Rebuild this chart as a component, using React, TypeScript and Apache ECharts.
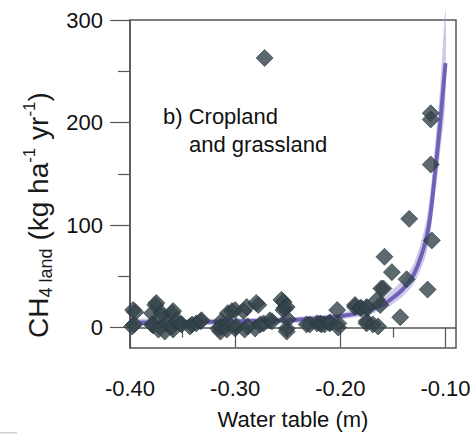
import React, { useEffect, useRef } from "react";
import * as echarts from "echarts";

// Observed points: water table (m) vs CH4 land (kg ha-1 yr-1)
const obsX: number[] = [
  -0.397, -0.398, -0.396, -0.395,
  -0.376, -0.375, -0.379, -0.379, -0.378, -0.373, -0.370, -0.370, -0.367, -0.365, -0.360, -0.359, -0.359, -0.360, -0.356, -0.352, -0.351, -0.343, -0.341, -0.337, -0.333, -0.332,
  -0.316, -0.314, -0.313, -0.313, -0.307, -0.307, -0.308, -0.303, -0.300, -0.300, -0.299, -0.292, -0.291, -0.289, -0.288, -0.278, -0.280, -0.281, -0.276, -0.273, -0.267, -0.265, -0.272,
  -0.256, -0.254, -0.254, -0.253, -0.251, -0.250, -0.251, -0.251,
  -0.232, -0.229, -0.222, -0.219, -0.218, -0.215, -0.210, -0.210, -0.203, -0.202, -0.202,
  -0.186, -0.186, -0.181, -0.180, -0.175, -0.175, -0.174, -0.175, -0.169, -0.165, -0.164, -0.162, -0.161, -0.159, -0.158, -0.151, -0.143, -0.137, -0.1345, -0.117, -0.114, -0.114, -0.114, -0.113,
];
const obsY: number[] = [
  17, 1, 3, 15,
  22, 24, 14, 3, 2, -2, 14, 11, -4, 4, 14, 16, -2, 1, 6, 4, 3, 1, 3, 4, 6, 7,
  -1, -4, 6, 1, 14, 4, -2, 16, 17, -1, 1, 16, -2, 20, 1, 22, 24, -1, 3, 4, 7, 6, 263,
  27, 25, 17, 19, 20, 8, -1, -4,
  3, 3, 4, 4, 3, 3, 5, 4, 17, 4, 0,
  22, 20, 19, 19, 6, 20, 19, 4, 3, 27, 1, 22, 38, 38, 69, 54, 10, 47, 106, 37, 209, 203, 159, 85,
];

// Exponential fit and its confidence band
const fitX: number[] = [-0.4, -0.35, -0.3, -0.25, -0.22, -0.2, -0.18, -0.16, -0.15, -0.14, -0.13, -0.12, -0.115, -0.11, -0.105, -0.1];
const fitY: number[] = [5, 5, 6, 7, 9, 11, 15, 22, 29, 38, 52, 80, 105, 150, 200, 258];
const bandLow: number[] = [2, 2, 3, 4, 6, 8, 11, 17, 23, 31, 43, 66, 88, 128, 172, 222];
const bandHigh: number[] = [8, 8, 9, 10, 12, 14, 20, 28, 37, 47, 63, 96, 126, 178, 235, 310];

const xMajor: number[] = [-0.4, -0.3, -0.2, -0.1];
const xMinor: number[] = [-0.35, -0.25, -0.15];
const yMajor: number[] = [0, 100, 200, 300];
const yMinor: number[] = [50, 150, 250];

const FONT = "'Liberation Sans', Arial, Helvetica, sans-serif";

export default function App() {
  const ref = useRef<HTMLDivElement>(null);
  useEffect(() => {
    if (!ref.current) return;
    const chart = echarts.init(ref.current, null, { renderer: "svg" });
    const scatterData = obsX.map((x, i) => [x, obsY[i]]);
    const fitData = fitX.map((x, i) => [x, fitY[i]]);
    const bandData = fitX.map((x, i) => [x, bandLow[i], bandHigh[i]]);
    const axisColor = "#555";
    chart.setOption({
      animation: false,
      backgroundColor: "#fff",
      textStyle: { fontFamily: FONT },
      grid: {
        left: 130,
        right: 19,
        top: 20,
        bottom: 88,
        show: true,
        borderColor: axisColor,
        borderWidth: 1.5,
        containLabel: false,
        outerBoundsMode: "none",
      },
      xAxis: [
        {
          type: "value",
          min: -0.4,
          max: -0.09,
          position: "bottom",
          splitLine: { show: false },
          axisLine: { show: true, lineStyle: { color: axisColor, width: 1.5 } },
          axisTick: { show: true, length: 20, customValues: xMajor, lineStyle: { color: axisColor, width: 1.2 } },
          axisLabel: {
            customValues: xMajor,
            formatter: (v: number) => v.toFixed(2),
            fontSize: 22,
            color: "#111",
            margin: 29,
            fontFamily: FONT,
          },
          name: "Water table (m)",
          nameLocation: "middle",
          nameGap: 60,
          nameTextStyle: { fontSize: 22, color: "#111", fontFamily: FONT },
        },
        {
          type: "value",
          min: -0.4,
          max: -0.09,
          position: "bottom",
          splitLine: { show: false },
          axisLine: { show: false },
          axisTick: { show: true, length: 10, customValues: xMinor, lineStyle: { color: axisColor, width: 1.2 } },
          axisLabel: { show: false },
        },
      ],
      yAxis: [
        {
          type: "value",
          min: -20,
          max: 300,
          position: "left",
          splitLine: { show: false },
          axisLine: { show: true, lineStyle: { color: axisColor, width: 1.5 } },
          axisTick: { show: true, length: 20, customValues: yMajor, lineStyle: { color: axisColor, width: 1.2 } },
          axisLabel: { customValues: yMajor, fontSize: 22, color: "#111", margin: 27, fontFamily: FONT },
          name: "CH{sub|4 land} (kg ha{sup|-1} yr{sup|-1})",
          nameLocation: "middle",
          nameGap: 75,
          nameRotate: 90,
          nameTextStyle: {
            fontSize: 28,
            color: "#1a1a1a",
            fontFamily: FONT,
            lineHeight: 34,
            padding: [0, 62, 0, 0],
            rich: {
              sub: { fontSize: 18, lineHeight: 19, verticalAlign: "bottom", color: "#1a1a1a", fontFamily: FONT },
              sup: { fontSize: 17, lineHeight: 16, verticalAlign: "top", color: "#1a1a1a", fontFamily: FONT },
            },
          },
        },
        {
          type: "value",
          min: -20,
          max: 300,
          position: "left",
          splitLine: { show: false },
          axisLine: { show: false },
          axisTick: { show: true, length: 12, customValues: yMinor, lineStyle: { color: axisColor, width: 1.2 } },
          axisLabel: { show: false },
        },
      ],
      graphic: [
        {
          type: "text",
          left: 163,
          top: 105,
          style: { text: "b) Cropland", fontSize: 22, fill: "#111", fontFamily: FONT },
        },
        {
          type: "text",
          left: 189,
          top: 133,
          style: { text: "and grassland", fontSize: 22, fill: "#111", fontFamily: FONT },
        },
        {
          type: "rect",
          left: 0,
          top: 432,
          shape: { width: 17, height: 1.5 },
          style: { fill: "#cfcfcf" },
        },
      ],
      series: [
        {
          type: "custom",
          name: "band",
          xAxisIndex: 0,
          yAxisIndex: 0,
          clip: false,
          data: bandData,
          encode: { x: 0, y: [1, 2] },
          renderItem: (params: any, api: any) => {
            if (params.dataIndex !== 0) return null;
            const upper = bandData.map((d) => api.coord([d[0], d[2]]));
            const lower = bandData.map((d) => api.coord([d[0], d[1]])).reverse();
            return {
              type: "polygon",
              shape: { points: upper.concat(lower), smooth: 0.3 },
              style: { fill: "rgba(165,155,218,0.55)" },
            };
          },
          z: 1,
        },
        {
          type: "line",
          name: "fit",
          data: fitData,
          showSymbol: false,
          symbol: "none",
          smooth: 0.3,
          lineStyle: { color: "#6e62b6", width: 4 },
          z: 2,
        },
        {
          type: "scatter",
          name: "obs",
          data: scatterData,
          symbol: "diamond",
          symbolSize: 17,
          itemStyle: { color: "#33444a", borderColor: "#26343a", borderWidth: 0.8 },
          z: 3,
        },
      ],
    });
    return () => chart.dispose();
  }, []);
  return (
    <div
      ref={ref}
      style={{ position: "absolute", left: 0, top: 0, width: 475, height: 436, background: "#fff" }}
    />
  );
}
